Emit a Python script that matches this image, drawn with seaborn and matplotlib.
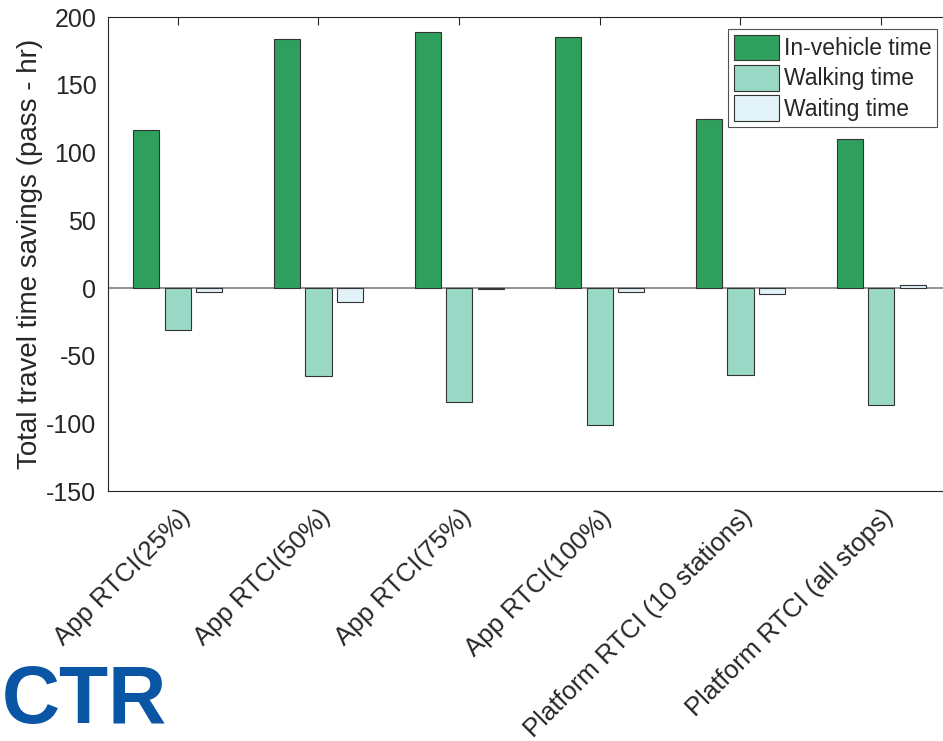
import matplotlib
matplotlib.use("Agg")
import matplotlib.pyplot as plt
import pandas as pd
import seaborn as sns

scenarios = [
    "App RTCI(25%)",
    "App RTCI(50%)",
    "App RTCI(75%)",
    "App RTCI(100%)",
    "Platform RTCI (10 stations)",
    "Platform RTCI (all stops)",
]
in_vehicle = [117, 184, 189, 185, 125, 110]
walking = [-31, -65, -84, -101, -64, -86]
waiting = [-3, -10, -1, -3, -4.5, 2]
series = ["In-vehicle time", "Walking time", "Waiting time"]
colors = ["#2e9f5c", "#9ad8c6", "#e2f2f9"]

df = pd.DataFrame({
    "scenario": scenarios * 3,
    "component": [s for s in series for _ in scenarios],
    "value": in_vehicle + walking + waiting,
})

sns.set_theme(style="white")
plt.rcParams["font.family"] = ["Liberation Sans", "DejaVu Sans"]
plt.rcParams["axes.unicode_minus"] = False

fig = plt.figure(figsize=(9.43, 7.41), dpi=100)
ax = fig.add_axes([0.114, 0.337, 0.895, 0.640])

sns.barplot(data=df, x="scenario", y="value", hue="component", order=scenarios,
            hue_order=series, palette=colors, saturation=1, width=0.67, gap=0.17,
            edgecolor="#333333", linewidth=0.8, errorbar=None, ax=ax)

ax.axhline(0, color="#7f7f7f", linewidth=1.2, zorder=0.5)
ax.set_xlim(-0.5, 5.5)
ax.set_ylim(-150, 200)
ax.set_yticks(range(-150, 201, 50))
ax.set_xlabel("")
ax.set_ylabel("Total travel time savings (pass - hr)", fontsize=20, color="#262626",
              labelpad=2)
ax.tick_params(axis="both", direction="in", length=6, width=0.8, colors="#262626",
               top=True, right=True)
ax.tick_params(axis="x", labelsize=18.5, pad=10)
ax.tick_params(axis="y", labelsize=18, pad=8)
plt.setp(ax.get_xticklabels(), rotation=45, ha="right", rotation_mode="anchor")
for sp in ax.spines.values():
    sp.set_color("#262626")
    sp.set_linewidth(0.8)

leg = ax.legend(loc="upper right", bbox_to_anchor=(0.994, 0.961),
                bbox_transform=fig.transFigure, fontsize=16.5, frameon=True,
                fancybox=False, edgecolor="#262626", handlelength=2.0,
                handleheight=1.35, handletextpad=0.2, labelspacing=0.2,
                borderpad=0.25, borderaxespad=0)
leg.get_frame().set_linewidth(0.8)

# logo in the lower-left corner
fig.text(0.002, 0.002, "CTR", fontsize=58, fontweight="bold", color="#0b55a5",
         ha="left", va="bottom")

fig.savefig("out.png", dpi=100)
